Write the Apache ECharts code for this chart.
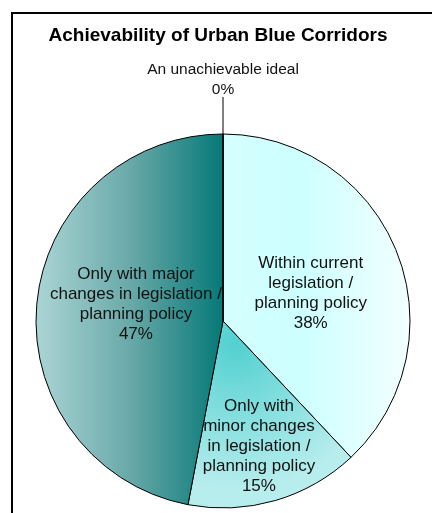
<!DOCTYPE html>
<html>
<head>
<meta charset="utf-8">
<script src="https://cdn.jsdelivr.net/npm/echarts@6/dist/echarts.min.js"></script>
<style>
  html, body { margin: 0; padding: 0; background: #fff; }
  #chart { width: 432px; height: 513px; }
</style>
</head>
<body>
<div id="chart"></div>
<script>
var titleText = 'Achievability of Urban Blue Corridors';
var categories = [
    'Within current\nlegislation /\nplanning policy',
    'Only with\nminor changes\nin legislation /\nplanning policy',
    'Only with major\nchanges in legislation /\nplanning policy',
    'An unachievable ideal'
];
var values = [38, 15, 47, 0];

var fills = [
    new echarts.graphic.LinearGradient(0, 0, 1, 0, [
        { offset: 0, color: '#d6ffff' },
        { offset: 0.4, color: '#ccffff' },
        { offset: 1, color: '#f2ffff' }
    ]),
    new echarts.graphic.RadialGradient(0.3, 0.12, 0.9, [
        { offset: 0, color: '#52d0d0' },
        { offset: 1, color: '#b8eded' }
    ]),
    new echarts.graphic.LinearGradient(0, 0, 1, 0, [
        { offset: 0, color: '#acd5d5' },
        { offset: 0.5, color: '#6aa9a9' },
        { offset: 1, color: '#057977' }
    ]),
    '#ffffff'
];
// small nudges for the inside labels
var labelShift = [[-2, 8], [9, 33], [9, -8], [0, 0]];

var chart = echarts.init(document.getElementById('chart'));

var data = [];
for (var i = 0; i < values.length; i++) {
    var item = {
        name: categories[i],
        value: values[i],
        itemStyle: { color: fills[i] }
    };
    if (i === 3) {
        item.label = { position: 'outside', align: 'center', fontSize: 15.5 };
        item.labelLine = { show: true, length: 37, length2: 0, lineStyle: { color: '#000', width: 1 } };
    }
    data.push(item);
}

var option = {
    animation: false,
    title: {
        text: titleText,
        left: 213,
        top: 21,
        textAlign: 'center',
        textStyle: {
            fontFamily: 'Liberation Sans',
            fontSize: 19,
            fontWeight: 'bold',
            color: '#000'
        }
    },
    graphic: [{
        type: 'polyline',
        shape: { points: [[12, 513], [12, 13], [432, 13]] },
        style: { stroke: '#000', lineWidth: 2, fill: null }
    }],
    series: [{
        type: 'pie',
        center: [223, 321],
        radius: 187,
        startAngle: 90,
        clockwise: true,
        minShowLabelAngle: 0,
        avoidLabelOverlap: false,
        itemStyle: { borderColor: '#000', borderWidth: 1 },
        emphasis: { disabled: true },
        label: {
            show: true,
            position: 'inside',
            formatter: '{b}\n{c}%',
            fontFamily: 'Liberation Sans',
            fontSize: 17,
            lineHeight: 20,
            color: '#111',
            align: 'center'
        },
        labelLayout: function (params) {
            var i = params.dataIndex;
            if (i !== 3) {
                return { dx: labelShift[i][0], dy: labelShift[i][1] };
            }
            if (!params.labelLinePoints) {
                return {};
            }
            var p0 = params.labelLinePoints[0];
            var top = p0[1] - 37;
            return {
                x: p0[0],
                y: top - 17,
                align: 'center',
                verticalAlign: 'middle',
                labelLinePoints: [p0, [p0[0], top], [p0[0], top]]
            };
        },
        data: data
    }]
};
chart.setOption(option, true);
</script>
</body>
</html>
